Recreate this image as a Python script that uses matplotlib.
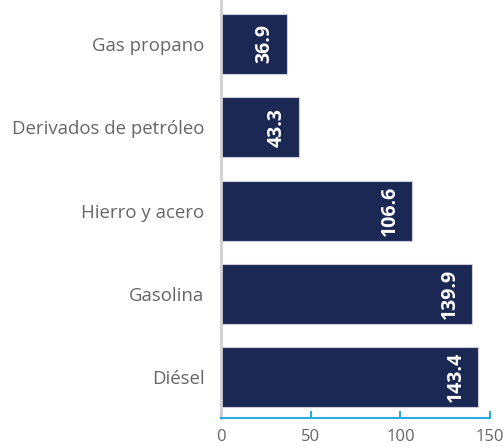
import matplotlib.pyplot as plt
import numpy as np

categories = ["Diésel", "Gasolina", "Hierro y acero", "Derivados de petróleo", "Gas propano"]
values = [143.4, 139.9, 106.6, 43.3, 36.9]
xticks = [0, 50, 100, 150]

NAVY = "#1c2854"
BLUE = "#29abe2"
GRAY = "#666666"

plt.rcParams["font.family"] = ["Open Sans", "DejaVu Sans"]

fig = plt.figure(figsize=(5.03, 4.47), dpi=100)
ax = fig.add_axes([0.4394, 0.0649, 0.5348, 0.933])

y = np.arange(len(categories))
bars = ax.barh(y, values, height=0.72, color=NAVY, edgecolor="#c9ccda",
               linewidth=0.8)

for b, v in zip(bars, values):
    ax.annotate(f"{v:.1f}", xy=(b.get_width(), b.get_y() + b.get_height() / 2),
                xytext=(-9, 0), textcoords="offset points",
                ha="right", va="center", rotation=90,
                color="white", fontsize=14, fontweight="bold")

ax.set_xlim(0, 150)
ax.set_ylim(-0.49, 4.515)
ax.set_yticks(y)
ax.set_yticklabels(categories, fontsize=13.4, color=GRAY)
ax.set_xticks(xticks)
ax.set_xticklabels([str(t) for t in xticks], fontsize=12, color=GRAY)

ax.tick_params(axis="y", length=0, pad=12)
ax.tick_params(axis="x", direction="in", length=5, width=1.5, color=BLUE,
               pad=8)
for side in ("top", "right"):
    ax.spines[side].set_visible(False)
ax.spines["left"].set_color("#d0d0d0")
ax.spines["left"].set_linewidth(2)
ax.spines["bottom"].set_color(BLUE)
ax.spines["bottom"].set_linewidth(1.5)
ax.spines["bottom"].set_zorder(3)

fig.savefig("out.png", dpi=100)
